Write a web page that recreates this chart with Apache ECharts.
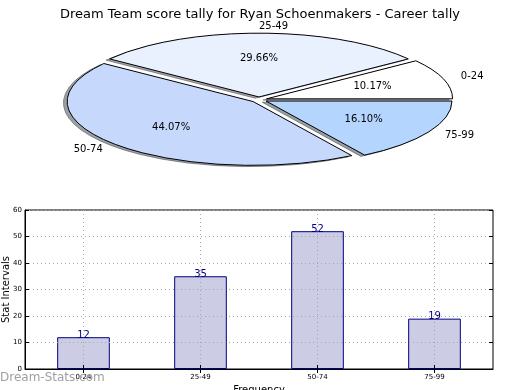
<!DOCTYPE html>
<html>
<head>
<meta charset="utf-8">
<script src="https://cdn.jsdelivr.net/npm/echarts@6/dist/echarts.min.js"></script>
<style>
html,body{margin:0;padding:0;background:#fff;}
#chart{width:520px;height:390px;}
</style>
</head>
<body>
<div id="chart"></div>
<script>
// ---- data ----
const title = 'Dream Team score tally for Ryan Schoenmakers - Career tally';
const categories = ['0-24', '25-49', '50-74', '75-99'];
const counts = [12, 35, 52, 19];
const yTicks = [0, 10, 20, 30, 40, 50, 60];
const xAxisName = 'Frequency';
const yAxisName = 'Stat Intervals';
const watermark = 'Dream-Stats.com';

// ---- styles ----
const sliceColors = [[255, 255, 255], [233, 241, 255], [198, 217, 253], [180, 213, 254]];
const PIE = { cx: 259, cy: 99.7, rx: 186, ry: 63.8, explode: 0.043, shadowDX: -0.02, shadowDY: -0.02 };
const FONT = 'DejaVu Sans';

const total = counts.reduce((a, b) => a + b, 0);
function angles(i) {
  let before = 0;
  for (let j = 0; j < i; j++) before += counts[j];
  const a1 = before / total * Math.PI * 2;
  const a2 = (before + counts[i]) / total * Math.PI * 2;
  return [a1, a2, (a1 + a2) / 2];
}

// elliptical wedge path (relative to wedge centre), derived from the angles
function wedgePath(a1, a2) {
  const x1 = PIE.rx * Math.cos(a1), y1 = -PIE.ry * Math.sin(a1);
  const x2 = PIE.rx * Math.cos(a2), y2 = -PIE.ry * Math.sin(a2);
  const large = (a2 - a1) > Math.PI ? 1 : 0;
  return 'M0,0L' + x1.toFixed(3) + ',' + y1.toFixed(3) +
    'A' + PIE.rx + ',' + PIE.ry + ',0,' + large + ',0,' + x2.toFixed(3) + ',' + y2.toFixed(3) + 'Z';
}

function wedge(isShadow) {
  return function (params, api) {
    const i = params.dataIndex;
    const v = api.value(0);
    const [a1, a2, am] = angles(i);
    let x = PIE.cx + PIE.explode * PIE.rx * Math.cos(am);
    let y = PIE.cy - PIE.explode * PIE.ry * Math.sin(am);
    const c = sliceColors[i];
    if (isShadow) {
      x += PIE.shadowDX * PIE.rx;
      y -= PIE.shadowDY * PIE.ry;
      const col = 'rgba(' + Math.round(c[0] * 0.3) + ',' + Math.round(c[1] * 0.3) + ',' + Math.round(c[2] * 0.3) + ',0.5)';
      return {
        type: 'path', x: x, y: y,
        shape: { pathData: wedgePath(a1, a2) },
        style: { fill: col, stroke: col, lineWidth: 1 }
      };
    }
    const lx = 1.1 * PIE.rx * Math.cos(am);
    const ly = -1.1 * PIE.ry * Math.sin(am);
    const px = 0.6 * PIE.rx * Math.cos(am);
    const py = -0.6 * PIE.ry * Math.sin(am);
    return {
      type: 'group', x: x, y: y,
      children: [
        {
          type: 'path',
          shape: { pathData: wedgePath(a1, a2) },
          style: { fill: 'rgb(' + c.join(',') + ')', stroke: '#000', lineWidth: 1 }
        },
        {
          type: 'text', x: lx, y: ly,
          style: { text: categories[i], fill: '#000', font: '10px "' + FONT + '"', align: Math.cos(am) > 0 ? 'left' : 'right', verticalAlign: 'middle' }
        },
        {
          type: 'text', x: px, y: py,
          style: { text: (v / total * 100).toFixed(2) + '%', fill: '#000', font: '10px "' + FONT + '"', align: 'center', verticalAlign: 'middle' }
        }
      ]
    };
  };
}

const chart = echarts.init(document.getElementById('chart'), null, { renderer: 'canvas' });
const pieData = counts.map((v, i) => ({ value: [v, i], name: categories[i] }));

chart.setOption({
  animation: false,
  backgroundColor: '#fff',
  textStyle: { fontFamily: FONT },
  title: {
    text: title, left: 'center', top: 3,
    textStyle: { fontFamily: FONT, fontSize: 13, fontWeight: 'normal', color: '#000' }
  },
  graphic: [{
    type: 'text', left: 0, top: 372, z: 100,
    style: { text: watermark, fill: '#a0a0a0', font: '12px "' + FONT + '"' }
  }],
  grid: { left: 25, right: 27, top: 210, bottom: 21, outerBoundsMode: 'none', containLabel: false, show: true, borderColor: '#000', borderWidth: 1, backgroundColor: 'transparent' },
  xAxis: [{
    type: 'category', data: categories, position: 'bottom', z: 5,
    name: xAxisName, nameLocation: 'middle', nameGap: 16, nameMoveOverlap: false,
    nameTextStyle: { fontFamily: FONT, fontSize: 10, color: '#000' },
    axisLine: { show: true, lineStyle: { color: '#000', width: 1 } },
    axisTick: { show: true, inside: true, alignWithLabel: true, length: 4, lineStyle: { color: '#000' } },
    axisLabel: { fontFamily: FONT, fontSize: 7, color: '#000', margin: 5 },
    splitLine: { show: true, alignWithLabel: true, lineStyle: { color: '#a8a8a8', type: [1, 3], width: 1 } }
  }, {
    type: 'category', data: categories, position: 'top', z: 5,
    axisLine: { show: false },
    axisTick: { show: true, inside: true, alignWithLabel: true, length: 4, lineStyle: { color: '#000' } },
    axisLabel: { show: false }, splitLine: { show: false }
  }],
  yAxis: [{
    type: 'value', min: yTicks[0], max: yTicks[yTicks.length - 1], interval: yTicks[1] - yTicks[0], z: 5,
    name: yAxisName, nameLocation: 'middle', nameGap: 14, nameMoveOverlap: false,
    nameTextStyle: { fontFamily: FONT, fontSize: 10, color: '#000' },
    axisLine: { show: true, lineStyle: { color: '#000', width: 1 } },
    axisTick: { show: true, inside: true, length: 4, lineStyle: { color: '#000' } },
    axisLabel: { fontFamily: FONT, fontSize: 7, color: '#000', margin: 3 },
    splitLine: { show: true, lineStyle: { color: '#a8a8a8', type: [1, 3], width: 1 } }
  }, {
    type: 'value', min: yTicks[0], max: yTicks[yTicks.length - 1], interval: yTicks[1] - yTicks[0], position: 'right', z: 5,
    axisLine: { show: false },
    axisTick: { show: true, inside: true, length: 4, lineStyle: { color: '#000' } },
    axisLabel: { show: false }, splitLine: { show: false }
  }],
  series: [
    {
      type: 'bar', xAxisIndex: 0, yAxisIndex: 0, data: counts, barWidth: '45%',
      itemStyle: { color: '#ccccE5', borderColor: '#000080', borderWidth: 1 },
      label: { show: true, position: 'top', distance: -3, color: '#000080', fontFamily: FONT, fontSize: 10 }
    },
    { type: 'custom', coordinateSystem: 'none', data: pieData, renderItem: wedge(true), z: 1, silent: true },
    { type: 'custom', coordinateSystem: 'none', data: pieData, renderItem: wedge(false), z: 2, silent: true }
  ]
});
</script>
</body>
</html>
